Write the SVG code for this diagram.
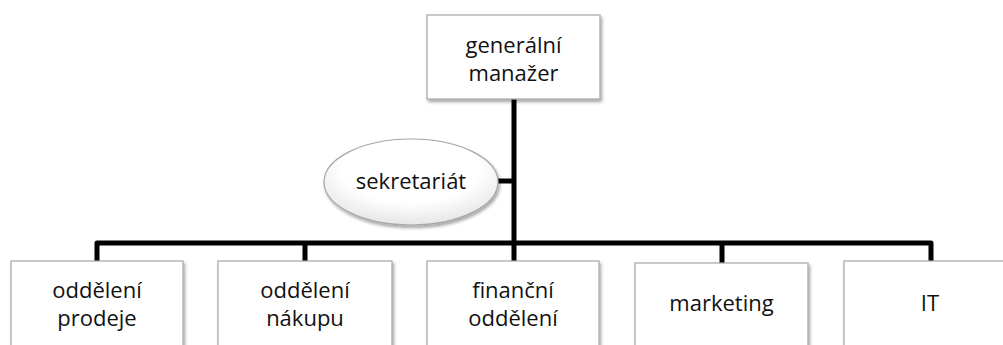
<svg xmlns="http://www.w3.org/2000/svg" width="1003" height="345" viewBox="0 0 1003 345">
<style>
.box{fill:#fff;stroke:#a6a6a6;stroke-width:1.2;filter:url(#sh)}
.t{font-family:"Open Sans","Liberation Sans",sans-serif;font-size:22px;fill:#111;text-anchor:middle}
.c{fill:none;stroke:#000;stroke-width:5;stroke-linejoin:round}
</style>
<defs>
<filter id="sh" x="-10%" y="-10%" width="130%" height="140%">
<feDropShadow dx="1.5" dy="2.5" stdDeviation="1.8" flood-color="#000" flood-opacity="0.35"/>
</filter>
<radialGradient id="eg" cx="50%" cy="35%" r="65%">
<stop offset="0.6" stop-color="#fff"/>
<stop offset="1" stop-color="#e6e6e6"/>
</radialGradient>
</defs>
<g id="connectors">
<path class="c" d="M514 99 V243"/>
<path class="c" d="M498 181 H514"/>
<path class="c" d="M97 261 V243 H931 V261"/>
<path class="c" d="M305 243 V261 M514 243 V261 M722 243 V263"/>
</g>
<g id="gm">
<rect class="box" x="427" y="15" width="173" height="84"/>
<text class="t" x="513.5" y="53">generální</text>
<text class="t" x="513.5" y="81">manažer</text>
</g>
<g id="sekretariat">
<ellipse class="box" cx="411" cy="182" rx="87" ry="43" style="fill:url(#eg)"/>
<text class="t" x="411" y="189">sekretariát</text>
</g>
<g id="prodej">
<rect class="box" x="11" y="261" width="172" height="100"/>
<text class="t" x="97" y="298">oddělení</text>
<text class="t" x="97" y="326">prodeje</text>
</g>
<g id="nakup">
<rect class="box" x="218" y="261" width="174" height="100"/>
<text class="t" x="305" y="298">oddělení</text>
<text class="t" x="305" y="326">nákupu</text>
</g>
<g id="financni">
<rect class="box" x="427" y="261" width="172" height="100"/>
<text class="t" x="513" y="298">finanční</text>
<text class="t" x="513" y="326">oddělení</text>
</g>
<g id="marketing">
<rect class="box" x="635" y="263" width="173" height="100"/>
<text class="t" x="721.5" y="311">marketing</text>
</g>
<g id="it">
<rect class="box" x="844" y="261" width="172" height="100"/>
<text class="t" x="930" y="311">IT</text>
</g>
</svg>
